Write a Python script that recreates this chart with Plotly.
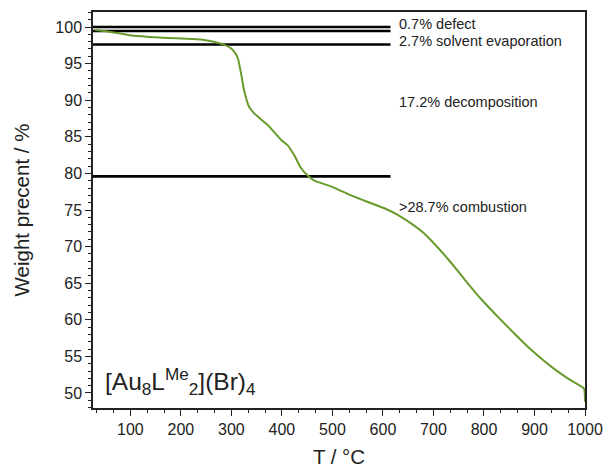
import plotly.graph_objects as go

# TGA curve: temperature (°C) and remaining weight (%)
temperature = [30, 55, 80, 106, 140, 174, 210, 239, 265, 285, 299, 308, 313, 319,
               325, 335, 345, 372, 398, 412, 425, 438, 451, 464, 498, 537, 570,
               604, 630, 657, 680, 696, 730, 763, 796, 829, 862, 895, 935, 968,
               998, 1000]
weight = [99.6, 99.4, 99.1, 98.8, 98.65, 98.5, 98.4, 98.3, 98.0, 97.6, 97.1, 96.4,
          95.7, 93.7, 91.4, 89.1, 88.2, 86.6, 84.6, 83.8, 82.4, 80.7, 79.7, 79.0,
          78.2, 77.0, 76.1, 75.2, 74.3, 73.1, 71.9, 70.8, 68.2, 65.4, 62.7, 60.3,
          58.0, 55.8, 53.5, 51.9, 50.6, 48.8]

# Step levels marking the mass-loss stages
step_levels = [100.0, 99.45, 97.6, 79.6]
step_x_start = 26
step_x_end = 615

# Stage labels (x, y, text)
label_x = [628, 628, 628, 628]
label_y = [100.35, 98.1, 89.7, 75.4]
label_text = ["0.7% defect", "2.7% solvent evaporation",
              "17.2% decomposition", ">28.7% combustion"]

x_range = [26, 1000]
y_range = [47.95, 102.05]
x_ticks = [100, 200, 300, 400, 500, 600, 700, 800, 900, 1000]
y_ticks = [50, 55, 60, 65, 70, 75, 80, 85, 90, 95, 100]

FONT = "Liberation Sans, Arial, sans-serif"
INK = "#222"

fig = go.Figure()

for lvl in step_levels:
    fig.add_trace(go.Scatter(
        x=[step_x_start, step_x_end], y=[lvl, lvl], mode="lines",
        line=dict(color="black", width=2.6), hoverinfo="skip", showlegend=False))

fig.add_trace(go.Scatter(
    x=temperature, y=weight, mode="lines",
    line=dict(color="#6a9a2c", width=2, shape="spline", smoothing=0.4),
    showlegend=False))

for lx, ly, lt in zip(label_x, label_y, label_text):
    fig.add_annotation(x=lx, y=ly, xref="x", yref="y", text=lt, showarrow=False,
                       xanchor="left", yanchor="middle",
                       font=dict(family=FONT, size=14.5, color=INK))

fig.add_annotation(x=0.02, y=0.018, xref="paper", yref="paper",
                   text="[Au<sub>8</sub>L<sup>Me</sup><sub>2</sub>](Br)<sub>4</sub>",
                   showarrow=False, xanchor="left", yanchor="bottom",
                   font=dict(family=FONT, size=24.5, color=INK))

axis_common = dict(
    showline=True, linecolor=INK, linewidth=1.5, mirror=True,
    ticks="outside", ticklen=6, tickwidth=1.3, tickcolor=INK,
    showgrid=False, zeroline=False, automargin=False,
    tickfont=dict(family=FONT, size=16, color=INK),
)

fig.update_xaxes(range=x_range, tickvals=x_ticks,
                 title=dict(text="T / °C", font=dict(family=FONT, size=20.5, color=INK),
                            standoff=16),
                 minor=dict(ticks="outside", ticklen=3, tickwidth=1.1, tickcolor=INK,
                            tick0=0, dtick=100 / 3, showgrid=False),
                 **axis_common)
fig.update_yaxes(range=y_range, tickvals=y_ticks,
                 title=dict(text="Weight precent / %", font=dict(family=FONT, size=20.5, color=INK),
                            standoff=20),
                 minor=dict(ticks="outside", ticklen=3, tickwidth=1.1, tickcolor=INK,
                            tick0=0, dtick=1, showgrid=False),
                 **axis_common)

fig.update_layout(
    width=603, height=468,
    margin=dict(l=93, r=18, t=12, b=60),
    plot_bgcolor="white", paper_bgcolor="white",
    font=dict(family=FONT),
)

fig.write_html("out.html")
